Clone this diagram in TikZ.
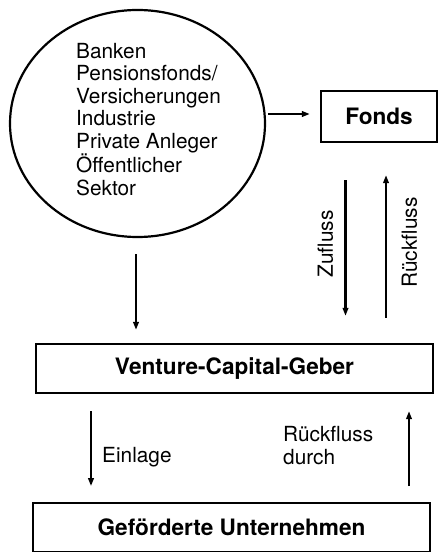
\documentclass[tikz,border=0pt]{standalone}
\usepackage{fontspec}
\setmainfont{TeX Gyre Heros}
\usetikzlibrary{shapes.geometric,arrows.meta,calc}
\begin{document}
\begin{tikzpicture}[x=1bp,y=-1bp,
  box/.style={draw, line width=2.2bp, inner sep=0pt},
  lbl/.style={font=\fontsize{22.6bp}{26bp}\selectfont\bfseries},
  arr/.style={line width=2.7bp, -{Triangle[length=8bp,width=5.5bp]}},
  txt/.style={font=\fontsize{20.8bp}{22.5bp}\selectfont, inner sep=0pt}]
\useasboundingbox (0,0) rectangle (438,552);

% investors
\node[ellipse, draw, line width=2.2bp, minimum width=255bp, minimum height=227bp, inner sep=0pt] (src) at (137.5,123.5) {};
\node[txt, anchor=north west, align=left] (members) at (76,43)
  {Banken\\Pensionsfonds/\\Versicherungen\\Industrie\\Private Anleger\\Öffentlicher\\Sektor};

% fund
\node[box, lbl, minimum width=116bp, minimum height=51bp] (fonds) at (379,116.5) {Fonds};

% venture capital provider and portfolio companies
\node[box, lbl, minimum width=397bp, minimum height=49bp] (vcg) at (234.5,368.5) {Venture-Capital-Geber};
\node[box, lbl, minimum width=397bp, minimum height=48.5bp] (gu) at (231.5,527.5) {Geförderte Unternehmen};

% x positions of the vertical flows
\coordinate (xa) at (136,0);
\coordinate (xz) at (345.5,0);
\coordinate (xr) at (386,0);
\coordinate (xe) at (91,0);
\coordinate (xb) at (409,0);

% flows
\draw[arr] ($(src.east)+(2,-9.5)$) -- ($(fonds.west)+(-10,-2.5)$);
\draw[arr] ($(src.south -| xa)+(0,16)$) -- ($(vcg.north -| xa)+(0,-13)$);
\draw[arr] ($(fonds.south -| xz)+(0,37)$) -- ($(vcg.north -| xz)+(0,-27)$);
\draw[arr] ($(vcg.north -| xr)+(0,-25)$) -- ($(fonds.south -| xr)+(0,32)$);
\draw[arr] ($(vcg.south -| xe)+(0,17)$) -- ($(gu.north -| xe)+(0,-16)$);
\draw[arr] ($(gu.north -| xb)+(0,-16)$) -- ($(vcg.south -| xb)+(0,17)$);

% flow labels
\node[txt, rotate=90] (zufluss) at (325.5,244) {Zufluss};
\node[txt, rotate=90] (rueck) at (409.5,242.5) {Rückfluss};
\node[txt, anchor=base west] (einlage) at (102,462) {Einlage};
\node[txt, anchor=north west, align=left, font=\fontsize{20.8bp}{23.5bp}\selectfont] (durch) at (283,426) {Rückfluss\\durch};
\end{tikzpicture}
\end{document}
